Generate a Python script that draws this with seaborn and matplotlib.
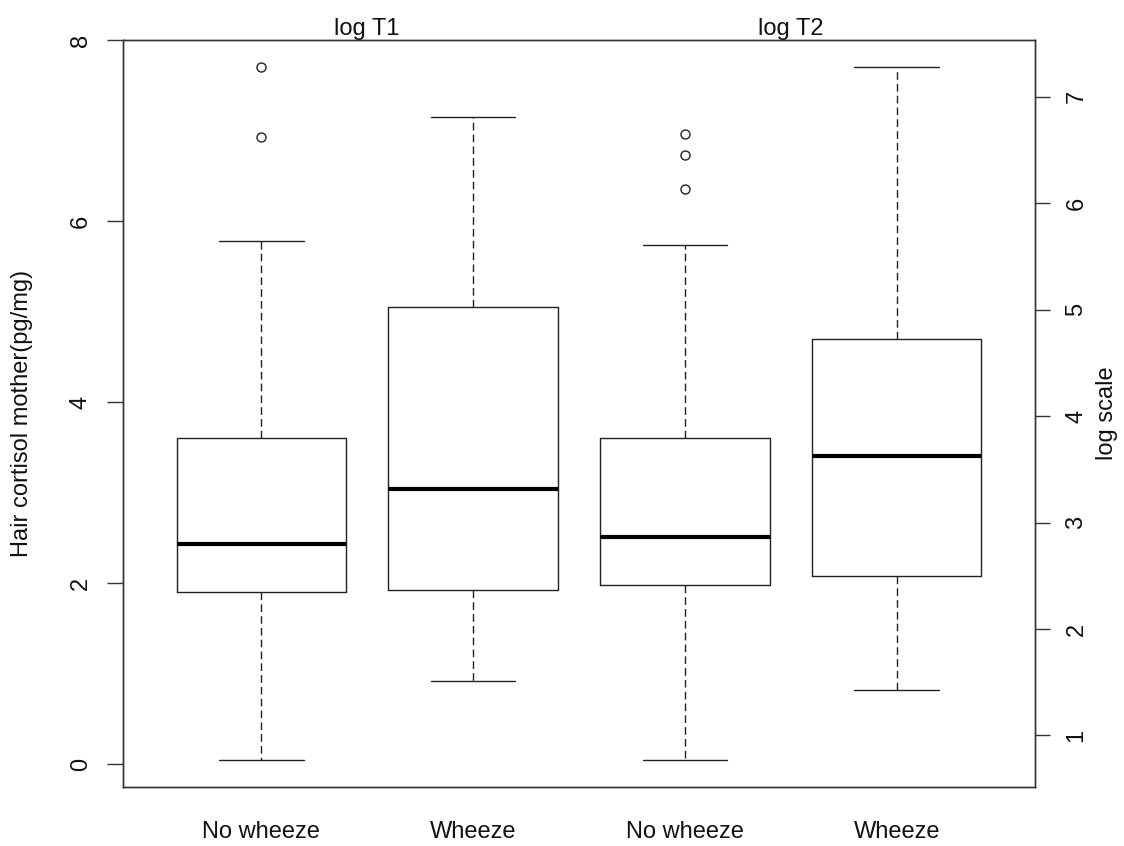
import matplotlib
matplotlib.use("Agg")
import matplotlib.pyplot as plt
import matplotlib.transforms as mtransforms
import seaborn as sns

# five-number summaries (left axis units)
groups = ["No wheeze", "Wheeze", "No wheeze", "Wheeze"]
whisker_low = [0.05, 0.92, 0.05, 0.82]
q1 = [1.91, 1.93, 1.98, 2.08]
medians = [2.44, 3.04, 2.51, 3.41]
q3 = [3.60, 5.05, 3.61, 4.70]
whisker_high = [5.78, 7.15, 5.74, 7.70]
outliers = [[6.93, 7.70], [], [6.35, 6.73, 6.96], []]

panel_titles = ["log T1", "log T2"]
left_ticks = [0, 2, 4, 6, 8]
right_ticks = [1, 2, 3, 4, 5, 6, 7]

sns.set_theme(style="white")
plt.rcParams['font.family'] = ['Liberation Sans', 'DejaVu Sans']

FS = 17
LC = '#222222'
TC = '#111111'

stats = []
for i, g in enumerate(groups):
    stats.append(dict(label=g, whislo=whisker_low[i], q1=q1[i], med=medians[i],
                      q3=q3[i], whishi=whisker_high[i], fliers=outliers[i]))

fig = plt.figure(figsize=(11.24, 8.46), dpi=100)
ax = fig.add_axes([123 / 1124, (846 - 786.5) / 846, 912 / 1124, 746.5 / 846])

positions = [1, 2, 3, 4]
ax.bxp(stats, positions=positions, widths=0.8, capwidths=0.4,
       boxprops=dict(color=LC, linewidth=1.0),
       whiskerprops=dict(color=LC, linewidth=1.0, linestyle=(0, (5.5, 3.0))),
       capprops=dict(color=LC, linewidth=1.0),
       medianprops=dict(color='black', linewidth=3.0, solid_capstyle='butt'),
       flierprops=dict(marker='o', markersize=6.5, markerfacecolor='white',
                       markeredgecolor=LC, markeredgewidth=1.0, linestyle='none'))

ax.set_xlim(0.347, 4.653)
ax.set_ylim(-0.243, 8.0)
ax.set_xticks(positions)
ax.set_xticklabels(groups, fontsize=FS, color=TC)
ax.tick_params(axis='x', bottom=False, length=0, pad=24.5)

ax.set_yticks(left_ticks)
ax.set_yticklabels([str(t) for t in left_ticks], rotation=90, va='center',
                   fontsize=FS, color=TC)
ax.tick_params(axis='y', left=True, direction='out', length=11.5, width=1.0,
               color='#333333', pad=11)

for s in ax.spines.values():
    s.set_color('#333333')
    s.set_linewidth(1.0)

# titles above each pair of boxes
trans = mtransforms.blended_transform_factory(ax.transData, ax.transAxes)
for k, t in enumerate(panel_titles):
    ax.text(1.5 + 2 * k, 1.0067, t, transform=trans, ha='center', va='baseline',
            fontsize=FS, color=TC)

# secondary axis on the right
ax2 = ax.twinx()
ax2.set_ylim(0.52, 7.533)
ax2.set_yticks(right_ticks)
ax2.set_yticklabels([str(t) for t in right_ticks], rotation=90, va='center',
                    fontsize=FS, color=TC)
ax2.tick_params(axis='y', right=True, direction='out', length=11, width=1.0,
                color='#333333', pad=11)
for s in ax2.spines.values():
    s.set_color('#333333')
    s.set_linewidth(1.0)
ax2.grid(False)
ax.grid(False)

fig.text(22 / 1124, (846 - 413) / 846, "Hair cortisol mother(pg/mg)", rotation=90,
         ha='center', va='center', fontsize=FS, color=TC)
fig.text(1107 / 1124, (846 - 413) / 846, "log scale", rotation=90,
         ha='center', va='center', fontsize=FS, color=TC)

fig.savefig("out.png", dpi=100, facecolor='white')
